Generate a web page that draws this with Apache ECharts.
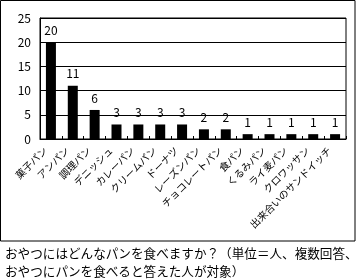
<!DOCTYPE html>
<html><head><meta charset="utf-8">
<script src="https://cdn.jsdelivr.net/npm/echarts@6/dist/echarts.min.js"></script>
<style>html,body{margin:0;padding:0;background:#fff}#c{width:357px;height:280px}</style>
</head><body><div id="c"></div>
<script>
const categories = ['菓子パン','アンパン','調理パン','デニッシュ','カレーパン','クリームパン','ドーナツ','レーズンパン','チョコレートパン','食パン','くるみパン','ライ麦パン','クロワッサン','出来合いのサンドイッチ'];
const values = [20,11,6,3,3,3,3,2,2,1,1,1,1,1];
const yTicks = [0,5,10,15,20,25];
const captionLines = ['おやつにはどんなパンを食べますか？（単位＝人、複数回答、','おやつにパンを食べると答えた人が対象）'];

const FONT = '"Noto Sans CJK JP", "Noto Sans", sans-serif';
const chart = echarts.init(document.getElementById('c'), null, {renderer:'canvas'});
chart.setOption({
  animation:false,
  backgroundColor:'#fff',
  grid:{left:40, top:18, width:306, height:121, show:true, borderColor:'#000', borderWidth:1, containLabel:false},
  xAxis:{type:'category', data:categories, boundaryGap:true,
    axisLine:{lineStyle:{color:'#000', width:1}},
    axisTick:{show:true, inside:true, length:3, alignWithLabel:false, lineStyle:{color:'#000'}},
    axisLabel:{rotate:45, interval:0, margin:4, fontSize:10, color:'#000', fontFamily:FONT, padding:[0,8,0,0]}
  },
  yAxis:{type:'value', min:yTicks[0], max:yTicks[yTicks.length-1], interval:5,
    axisLine:{show:true, lineStyle:{color:'#000'}},
    axisTick:{show:false},
    splitLine:{show:true, lineStyle:{color:'#000', width:1}},
    axisLabel:{fontSize:12, color:'#000', fontFamily:FONT, margin:9}
  },
  series:[{type:'bar', data:values, barWidth:10, itemStyle:{color:'#000'},
    label:{show:true, position:'top', distance:6, fontSize:12, color:'#000', fontFamily:FONT}}],
  graphic:[
    {type:'rect', shape:{x:0.5, y:0.5, width:354.5, height:240.5}, style:{fill:null, stroke:'#000', lineWidth:1}, z:-1},
    {type:'text', left:5, top:247, style:{text:captionLines[0], fontSize:12.6, fill:'#000', fontFamily:FONT}},
    {type:'text', left:5, top:265, style:{text:captionLines[1], fontSize:12.6, fill:'#000', fontFamily:FONT}}
  ]
});
</script></body></html>
